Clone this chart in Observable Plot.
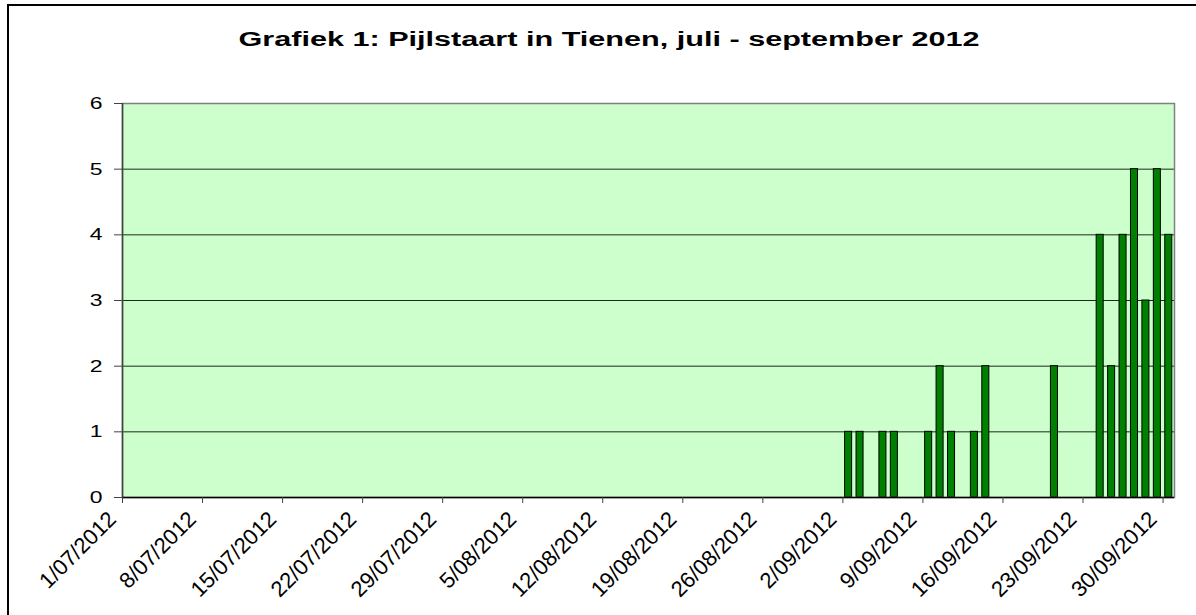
<!DOCTYPE html>
<html>
<head>
<meta charset="utf-8">
<script src="https://cdn.jsdelivr.net/npm/d3@7"></script>
<script src="https://cdn.jsdelivr.net/npm/@observablehq/plot@0.6"></script>
<style>
  body { margin: 0; background: #fff; }
  #wrap { position: relative; width: 1196px; height: 615px; overflow: hidden; font-family: Arial, "Liberation Sans", sans-serif; }
  #border { position: absolute; left: 7px; top: 4px; width: 1200px; height: 640px; border: 2px solid #000; box-sizing: border-box; }
  #chart { position: absolute; left: 0; top: 0; }
  #title { position: absolute; left: 609px; top: 27px; white-space: nowrap; font-weight: bold; font-size: 20px; line-height: 24px; color: #000; transform-origin: center center; }
</style>
</head>
<body>
<div id="wrap">
  <div id="border"></div>
  <div id="chart"></div>
  <div id="title"></div>
</div>
<script>
const titleText = "Grafiek 1: Pijlstaart in Tienen, juli - september 2012";
const obsDates = ["2012-09-02","2012-09-03","2012-09-05","2012-09-06","2012-09-09","2012-09-10","2012-09-11","2012-09-13","2012-09-14","2012-09-20","2012-09-24","2012-09-25","2012-09-26","2012-09-27","2012-09-28","2012-09-29","2012-09-30"];
const obsCounts = [1,1,1,1,1,2,1,1,2,2,4,2,4,5,3,5,4];
const tickDates = ["2012-07-01","2012-07-08","2012-07-15","2012-07-22","2012-07-29","2012-08-05","2012-08-12","2012-08-19","2012-08-26","2012-09-02","2012-09-09","2012-09-16","2012-09-23","2012-09-30"];
const yTicks = [0,1,2,3,4,5,6];
const gridValues = [1,2,3,4,5];
const xStart = "2012-07-01";
const xEnd = "2012-10-01";

const parse = d3.utcParse("%Y-%m-%d");
const data = obsDates.map((d, i) => ({start: parse(d), end: d3.utcDay.offset(parse(d), 1), count: obsCounts[i]}));

const chart = Plot.plot({
  width: 1196,
  height: 615,
  marginLeft: 122,
  marginRight: 22,
  marginTop: 103,
  marginBottom: 118,
  style: {fontFamily: "Arial, 'Liberation Sans', sans-serif", background: "transparent", overflow: "visible"},
  x: {type: "utc", domain: [parse(xStart), parse(xEnd)]},
  y: {domain: [0, 6]},
  marks: [
    Plot.frame({fill: "#CCFFCC", stroke: "none"}),
    Plot.ruleY(gridValues, {stroke: "#000", strokeWidth: 1, strokeOpacity: 0.85}),
    Plot.rect(data, {x1: "start", x2: "end", y1: 0, y2: "count", fill: "#008000", stroke: "#000", strokeWidth: 1, insetLeft: 2.2, insetRight: 2.2}),
    Plot.frame({stroke: "#808080", strokeWidth: 1.5}),
    Plot.ruleX([parse(xStart)], {stroke: "#404040", strokeWidth: 1.5}),
    Plot.ruleY([0], {stroke: "#000", strokeWidth: 1.5}),
    Plot.axisY({ticks: yTicks, tickFormat: "d", label: null, tickSize: 8, tickPadding: 12, fontSize: 17, stroke: "#404040", color: "#000"}),
    Plot.axisX({ticks: tickDates.map(parse), tickFormat: d3.utcFormat("%-d/%m/%Y"), label: null, tickRotate: -45, tickSize: 6, tickPadding: 6, fontSize: 22, stroke: "#404040", color: "#000"})
  ]
});
document.getElementById("chart").appendChild(chart);

// Horizontal stretch of y tick labels, as in the reference rendering
d3.select(chart).selectAll("g[aria-label='y-axis tick label'] text").each(function() {
  const t = this.getAttribute("transform") || "";
  this.setAttribute("transform", t + " scale(1.35,1)");
});
// Nudge rotated x tick labels down-left (label offset only; ticks stay put)
d3.select(chart).selectAll("g[aria-label='x-axis tick label'] text").each(function() {
  const t = this.getAttribute("transform") || "";
  this.setAttribute("transform", "translate(-10,6) " + t);
});

const titleEl = document.getElementById("title");
titleEl.textContent = titleText;
const w = titleEl.getBoundingClientRect().width;
const s = 741 / w;
titleEl.style.transform = `translateX(-50%) scaleX(${s})`;
</script>
</body>
</html>
